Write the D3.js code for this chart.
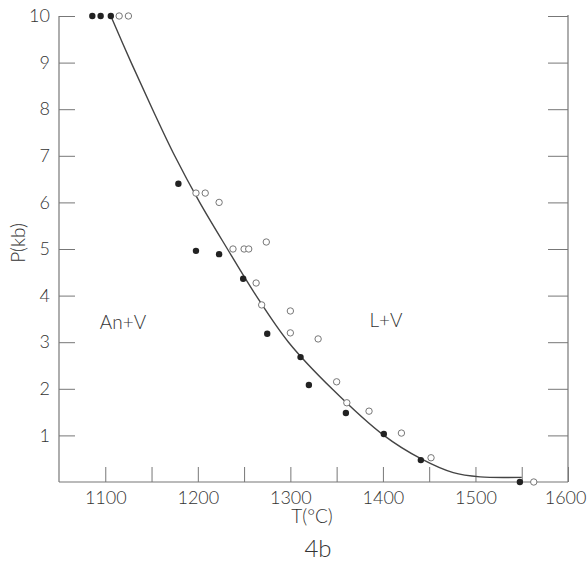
<!DOCTYPE html>
<html><head><meta charset="utf-8">
<script src="https://cdn.jsdelivr.net/npm/d3@7"></script>
<style>
body{margin:0;background:#fff;}
text{font-family:Lato,"Open Sans",sans-serif;font-weight:300;fill:#333;}
</style></head>
<body><svg id="c" width="587" height="566"></svg>
<script>
// Data (T in °C, P in kb)
const filledT = [1086,1095,1106,1179,1198,1223,1249,1275,1311,1320,1360,1401,1441,1548];
const filledP = [10,10,10,6.4,4.96,4.89,4.36,3.18,2.68,2.08,1.48,1.03,0.47,0.0];
const openT = [1115,1125,1198,1208,1223,1274,1238,1250,1255,1263,1269,1300,1300,1330,1350,1361,1385,1420,1452,1563];
const openP = [10,10,6.2,6.2,6.0,5.15,5.0,5.0,5.0,4.27,3.8,3.67,3.2,3.07,2.15,1.7,1.52,1.05,0.52,0.0];
const curveT = [1106,1128,1151,1175,1202,1232,1263,1298,1345,1401,1441,1476,1505,1550];
const curveP = [10,9,8,7,6,5,4,3,2,1,0.5,0.2,0.11,0.1];
const xTicks = [1100,1200,1300,1400,1500,1600];
const xMinor = [1150,1250,1350,1450,1550];
const yTicks = [1,2,3,4,5,6,7,8,9,10];

const svg = d3.select("#c");
const x = d3.scaleLinear().domain([1050,1600]).range([59,568]);
const y = d3.scaleLinear().domain([0,10]).range([482,16]);
const axisCol = "#777";

// left axis
const gl = svg.append("g").attr("transform","translate(59,0)")
  .call(d3.axisLeft(y).tickValues(yTicks).tickSize(-16).tickPadding(9).tickFormat(d3.format("d")));
gl.select(".domain").remove();
gl.selectAll("line").attr("stroke",axisCol);
gl.selectAll("text").style("font-size","18px").attr("fill","#333").attr("text-anchor","end").attr("x",-9);
svg.append("line").attr("x1",59).attr("x2",59).attr("y1",y(10)).attr("y2",y(0)).attr("stroke",axisCol).attr("stroke-width",1.2);

// right axis
const gr = svg.append("g").attr("transform","translate(568,0)")
  .call(d3.axisRight(y).tickValues(yTicks).tickSize(-20).tickFormat(""));
gr.select(".domain").remove();
gr.selectAll("line").attr("stroke",axisCol);
svg.append("line").attr("x1",568).attr("x2",568).attr("y1",y(10)-1).attr("y2",y(0)).attr("stroke",axisCol).attr("stroke-width",1.2);

// bottom axis
const gb = svg.append("g").attr("transform","translate(0,482)")
  .call(d3.axisBottom(x).tickValues(xTicks.concat(xMinor)).tickSize(-15).tickPadding(9)
    .tickFormat(d => xTicks.includes(d) ? d : ""));
gb.select(".domain").remove();
gb.selectAll("line").attr("stroke",axisCol);
gb.selectAll("text").style("font-size","18px").attr("fill","#333")
  .filter(d => d === 1600).attr("text-anchor","end").attr("x",18);
svg.append("line").attr("x1",x(1050)).attr("x2",x(1600)).attr("y1",482).attr("y2",482).attr("stroke",axisCol).attr("stroke-width",1.2);

// curve
const pts = curveT.map((t,i)=>[t,curveP[i]]);
svg.append("path").datum(pts)
  .attr("d", d3.line().x(d=>x(d[0])).y(d=>y(d[1])).curve(d3.curveCatmullRom.alpha(0.5)))
  .attr("fill","none").attr("stroke","#444").attr("stroke-width",1.4);

// points
svg.append("g").selectAll("circle").data(openT.map((t,i)=>[t,openP[i]])).join("circle")
  .attr("cx",d=>x(d[0])).attr("cy",d=>y(d[1])).attr("r",3.2)
  .attr("fill","#fff").attr("stroke","#777").attr("stroke-width",1);
svg.append("g").selectAll("circle").data(filledT.map((t,i)=>[t,filledP[i]])).join("circle")
  .attr("cx",d=>x(d[0])).attr("cy",d=>y(d[1])).attr("r",3.2)
  .attr("fill","#222");

// labels
svg.append("text").attr("x",123).attr("y",329).attr("text-anchor","middle").style("font-size","19px").text("An+V");
svg.append("text").attr("x",386).attr("y",327).attr("text-anchor","middle").style("font-size","19px").text("L+V");
svg.append("text").attr("x",312).attr("y",523).attr("text-anchor","middle").style("font-size","19px").text("T(°C)");
svg.append("text").attr("x",318).attr("y",557).attr("text-anchor","middle").style("font-size","24px").text("4b");
svg.append("text").attr("transform","translate(25,243) rotate(-90)").attr("text-anchor","middle").style("font-size","19px").text("P(kb)");
</script></body></html>
